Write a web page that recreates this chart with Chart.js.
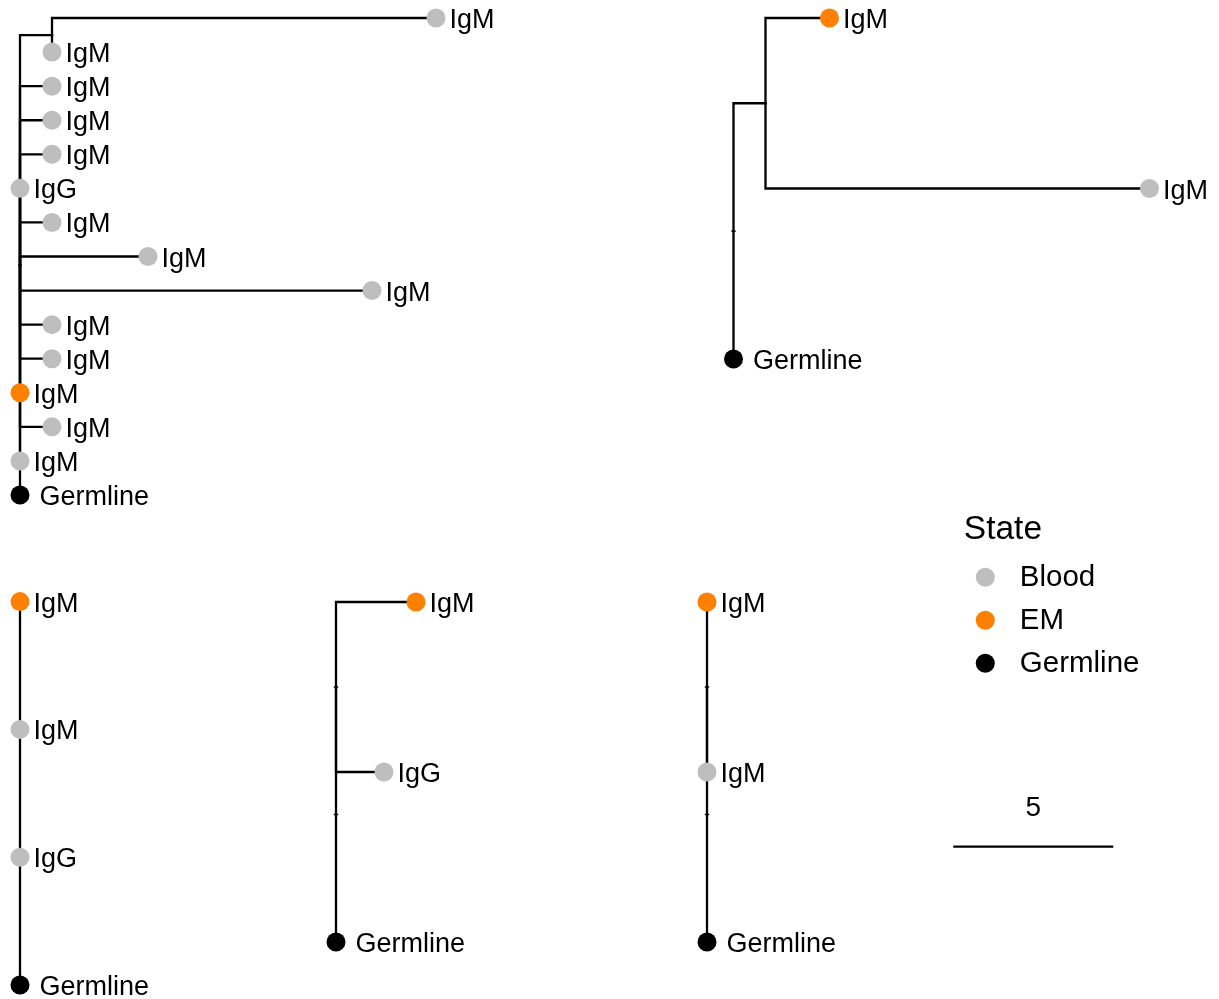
<!DOCTYPE html>
<html><head><meta charset="utf-8">
<script src="https://cdn.jsdelivr.net/npm/chart.js@4.4.1/dist/chart.umd.min.js"></script>
<style>
html,body{margin:0;padding:0;background:#fff;width:1219px;height:999px;overflow:hidden}
canvas{position:absolute;left:0;top:0}
</style></head><body>
<canvas id="t1" width="1219" height="999"></canvas>
<canvas id="t2" width="1219" height="999"></canvas>
<canvas id="t3" width="1219" height="999"></canvas>
<canvas id="t4" width="1219" height="999"></canvas>
<canvas id="t5" width="1219" height="999"></canvas>
<canvas id="leg" width="1219" height="999"></canvas>
<canvas id="bar" width="1219" height="999"></canvas>
<script>
// ================= DATA =================
const stateNames = ["Blood", "EM", "Germline"];
const legendTitle = "State";
const scaleBarLength = 5;

// Tree 1 (top-left). Node "" = internal node (not drawn as a point)
const t1Labels  = ["", "Germline", "IgM", "IgM", "IgM", "IgM", "IgM", "IgM", "IgM", "IgM", "IgG", "IgM", "IgM", "IgM", "", "IgM", "IgM"];
const t1States  = [null, "Germline", "Blood", "Blood", "EM", "Blood", "Blood", "Blood", "Blood", "Blood", "Blood", "Blood", "Blood", "Blood", null, "Blood", "Blood"];
const t1Dist    = [0, 0, 0, 1, 0, 1, 1, 11, 4, 1, 0, 1, 1, 1, 1, 1, 13];
const t1Rows    = [7.75, 1, 2, 3, 4, 5, 6, 7, 8, 9, 10, 11, 12, 13, 14.5, 14, 15];
const t1Parent  = [-1, 0, 0, 0, 0, 0, 0, 0, 0, 0, 0, 0, 0, 0, 0, 14, 14];
const t1Ticks   = [];

// Tree 2 (top-right)
const t2Labels  = ["", "Germline", "", "IgM", "IgM"];
const t2States  = [null, "Germline", null, "Blood", "EM"];
const t2Dist    = [0, 0, 1, 13, 3];
const t2Rows    = [1.75, 1, 2.5, 2, 3];
const t2Parent  = [-1, 0, 0, 2, 2];
const t2Ticks   = [0];

// Tree 3 (bottom-middle)
const t3Labels  = ["", "Germline", "", "IgG", "IgM"];
const t3States  = [null, "Germline", null, "Blood", "EM"];
const t3Dist    = [0, 0, 0, 1.5, 2.5];
const t3Rows    = [1.75, 1, 2.5, 2, 3];
const t3Parent  = [-1, 0, 0, 2, 2];
const t3Ticks   = [0, 2];

// Tree 4 (bottom-left)
const t4Labels  = ["Germline", "IgG", "IgM", "IgM"];
const t4States  = ["Germline", "Blood", "Blood", "EM"];
const t4Dist    = [0, 0, 0, 0];
const t4Rows    = [1, 2, 3, 4];
const t4Parent  = [-1, 0, 1, 2];
const t4Ticks   = [];

// Tree 5 (bottom, third column)
const t5Labels  = ["", "Germline", "", "IgM", "IgM"];
const t5States  = [null, "Germline", null, "Blood", "EM"];
const t5Dist    = [0, 0, 0, 0, 0];
const t5Rows    = [1.75, 1, 2.5, 2, 3];
const t5Parent  = [-1, 0, 0, 2, 2];
const t5Ticks   = [0, 2];

// ================= STYLE / LAYOUT =================
const stateColor = { "Blood": "#BEBEBE", "EM": "#FF7F00", "Germline": "#000000" };
const W = 1219, H = 999, PX_PER_UNIT = 32;
const FONT = '"Liberation Sans", Arial, Helvetica, sans-serif';
const LABEL_SIZE = 27;
const POINT_R = 9.5;
const LINE_W = 2.3;

function baseOptions(xmin, xmax, ymin, ymax, reverseY) {
  return {
    responsive: false, animation: false, devicePixelRatio: 1,
    layout: { padding: 0, autoPadding: false },
    plugins: { legend: { display: false }, tooltip: { enabled: false } },
    events: [],
    scales: {
      x: { type: 'linear', display: false, min: xmin, max: xmax },
      y: { type: 'linear', display: false, min: ymin, max: ymax, reverse: !!reverseY }
    }
  };
}

function makeTree(id, labels, states, dist, rows, parents, ticks, anchor) {
  const xmin = -anchor.x0 / PX_PER_UNIT, xmax = (W - anchor.x0) / PX_PER_UNIT;
  const ymin = 1 - (H - anchor.row1) / anchor.step;
  const ymax = 1 + anchor.row1 / anchor.step;
  const datasets = [];
  const pts = [], cols = [];
  labels.forEach((l, i) => {
    if (l) { pts.push({ x: dist[i], y: rows[i] }); cols.push(stateColor[states[i]]); }
  });
  datasets.push({ data: pts, pointRadius: POINT_R, pointBackgroundColor: cols, pointBorderWidth: 0, order: 0, clip: false });
  parents.forEach((p, i) => {
    if (p < 0) return;
    datasets.push({
      data: [{ x: dist[p], y: rows[p] }, { x: dist[p], y: rows[i] }, { x: dist[i], y: rows[i] }],
      showLine: true, borderColor: '#000', borderWidth: LINE_W, pointRadius: 0, tension: 0,
      borderJoinStyle: 'miter', borderCapStyle: 'square', order: 1, clip: false
    });
  });
  ticks.forEach(i => {
    datasets.push({
      data: [{ x: dist[i] - 0.07, y: rows[i] }, { x: dist[i] + 0.07, y: rows[i] }],
      showLine: true, borderColor: '#000', borderWidth: 1.3, pointRadius: 0, order: 1, clip: false
    });
  });
  const labelPlugin = {
    id: 'labels_' + id,
    afterDatasetsDraw(chart) {
      const ctx = chart.ctx, xs = chart.scales.x, ys = chart.scales.y;
      ctx.save();
      ctx.fillStyle = '#000';
      ctx.font = LABEL_SIZE + 'px ' + FONT;
      ctx.textAlign = 'left';
      ctx.textBaseline = 'alphabetic';
      labels.forEach((l, i) => {
        if (!l) return;
        const px = xs.getPixelForValue(dist[i]), py = ys.getPixelForValue(rows[i]);
        const off = l === 'Germline' ? 19.5 : 13.5;
        ctx.fillText(l, px + off, py + 10);
      });
      ctx.restore();
    }
  };
  new Chart(document.getElementById(id), {
    type: 'scatter', data: { datasets },
    options: baseOptions(xmin, xmax, ymin, ymax, false),
    plugins: [labelPlugin]
  });
}

makeTree('t1', t1Labels, t1States, t1Dist, t1Rows, t1Parent, t1Ticks, { x0: 20, row1: 495, step: 34.07 });
makeTree('t2', t2Labels, t2States, t2Dist, t2Rows, t2Parent, t2Ticks, { x0: 733.5, row1: 359, step: 170.5 });
makeTree('t3', t3Labels, t3States, t3Dist, t3Rows, t3Parent, t3Ticks, { x0: 336, row1: 942, step: 170 });
makeTree('t4', t4Labels, t4States, t4Dist, t4Rows, t4Parent, t4Ticks, { x0: 20, row1: 985, step: 127.8 });
makeTree('t5', t5Labels, t5States, t5Dist, t5Rows, t5Parent, t5Ticks, { x0: 707, row1: 942, step: 170 });

// ---- Legend ----
(function () {
  const a = { x0: 985.3, row0: 577.3, step: 43 };
  const xmin = -a.x0 / PX_PER_UNIT, xmax = (W - a.x0) / PX_PER_UNIT;
  const ymin = -a.row0 / a.step, ymax = (H - a.row0) / a.step;
  const pts = stateNames.map((s, i) => ({ x: 0, y: i }));
  const plugin = {
    id: 'legendText',
    afterDatasetsDraw(chart) {
      const ctx = chart.ctx, xs = chart.scales.x, ys = chart.scales.y;
      const px = xs.getPixelForValue(0);
      ctx.save();
      ctx.fillStyle = '#000';
      ctx.textBaseline = 'alphabetic';
      ctx.font = '33.5px ' + FONT;
      ctx.fillText(legendTitle, px - 21.5, ys.getPixelForValue(0) - 38);
      ctx.font = '29.5px ' + FONT;
      stateNames.forEach((s, i) => ctx.fillText(s, px + 34.5, ys.getPixelForValue(i) + 9));
      ctx.restore();
    }
  };
  new Chart(document.getElementById('leg'), {
    type: 'scatter',
    data: { datasets: [{ data: pts, pointRadius: POINT_R, pointBorderWidth: 0,
      pointBackgroundColor: stateNames.map(s => stateColor[s]), clip: false }] },
    options: baseOptions(xmin, xmax, ymin, ymax, true),
    plugins: [plugin]
  });
})();

// ---- Scale bar ----
(function () {
  const a = { x0: 953.3, y0: 846.7 };
  const xmin = -a.x0 / PX_PER_UNIT, xmax = (W - a.x0) / PX_PER_UNIT;
  const ymin = -(H - a.y0) / 100, ymax = a.y0 / 100;
  const plugin = {
    id: 'barText',
    afterDatasetsDraw(chart) {
      const ctx = chart.ctx, xs = chart.scales.x, ys = chart.scales.y;
      ctx.save();
      ctx.fillStyle = '#000';
      ctx.font = '28px ' + FONT;
      ctx.textAlign = 'center';
      ctx.textBaseline = 'alphabetic';
      ctx.fillText(String(scaleBarLength), xs.getPixelForValue(scaleBarLength / 2), ys.getPixelForValue(0) - 30.5);
      ctx.restore();
    }
  };
  new Chart(document.getElementById('bar'), {
    type: 'scatter',
    data: { datasets: [{ data: [{ x: 0, y: 0 }, { x: scaleBarLength, y: 0 }], showLine: true,
      borderColor: '#000', borderWidth: LINE_W, pointRadius: 0, clip: false }] },
    options: baseOptions(xmin, xmax, ymin, ymax, false),
    plugins: [plugin]
  });
})();
</script>
</body></html>
